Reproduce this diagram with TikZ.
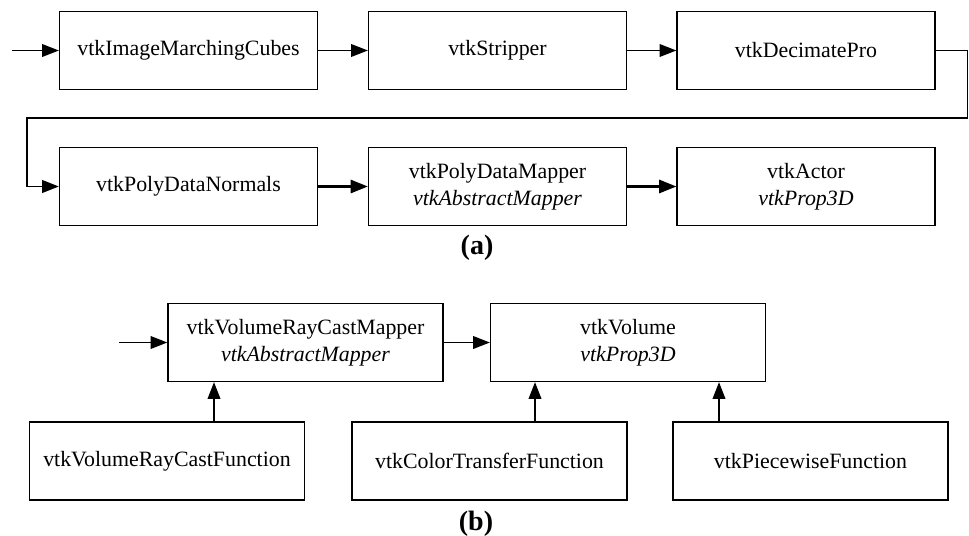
\documentclass[tikz,border=0pt]{standalone}
\usepackage{fontspec}
\setmainfont{Liberation Serif}
\usetikzlibrary{arrows.meta}
\begin{document}
\begin{tikzpicture}[font=\fontsize{16.4}{20}\selectfont, line join=miter, >={Triangle[length=12.5pt,width=9.5pt]}, x=0.75pt, y=0.75pt]
    \tikzset{box/.style={draw, line width=1pt, minimum width=193.5pt, minimum height=58.5pt, inner sep=0pt, align=center},
             wbox/.style={box, minimum width=206.25pt},
             link/.style={->, line width=1pt},
             heavy/.style={-{Triangle[length=13pt,width=10pt]}, line width=1.6pt},
             caption/.style={font=\fontsize{21}{24}\selectfont\bfseries}}
    \useasboundingbox (0,0) rectangle (969,-535);
    % (a) surface pipeline
    \node[box] (cubes) at (188.5,-50.5) {vtkImageMarchingCubes};
    \node[box] (strip) at (497.5,-50.5) {vtkStripper};
    \node[box] (decim) at (806,-50.5) {vtkDecimatePro};
    \node[box] (norm) at (188.5,-186.5) {vtkPolyDataNormals};
    \node[box] (pmap) at (497.5,-186.5) {vtkPolyDataMapper\\\textit{vtkAbstractMapper}};
    \node[box] (actor) at (806,-186.5) {vtkActor\\\textit{vtkProp3D}};
    \node[caption] (capa) at (477,-248) {(a)};
    \coordinate (ina) at (12,-50.5);
    \coordinate (c1) at (967.5,-118);
    \coordinate (c2) at (27,-118);
    \draw[link] (ina) -- (cubes);
    \draw[link] (cubes) -- (strip);
    \draw[link] (strip) -- (decim);
    \draw[link, line width=1.3pt] (decim.east) -| (c1) -- (c2) |- (norm.west);
    \draw[heavy] (norm) -- (pmap);
    \draw[heavy] (pmap) -- (actor);
    % (b) volume pipeline
    \node[wbox] (rcmap) at (305.5,-342.5) {vtkVolumeRayCastMapper\\\textit{vtkAbstractMapper}};
    \node[wbox] (vol) at (628,-342.5) {vtkVolume\\\textit{vtkProp3D}};
    \node[wbox] (rcfun) at (167,-461) {vtkVolumeRayCastFunction};
    \node[wbox] (ctf) at (489.5,-461) {vtkColorTransferFunction};
    \node[wbox] (pwf) at (810.5,-461) {vtkPiecewiseFunction};
    \node[caption] (capb) at (476,-524) {(b)};
    \coordinate (inb) at (119,-342.5);
    \draw[link] (inb) -- (rcmap);
    \draw[link] (rcmap) -- (vol);
    \foreach \from/\to/\xx in {rcfun/rcmap/214, ctf/vol/535, pwf/vol/719}{
        \coordinate (t) at (\xx,0);
        \draw[link] (\from.north -| t) -- (\to.south -| t);
    }
\end{tikzpicture}
\end{document}
